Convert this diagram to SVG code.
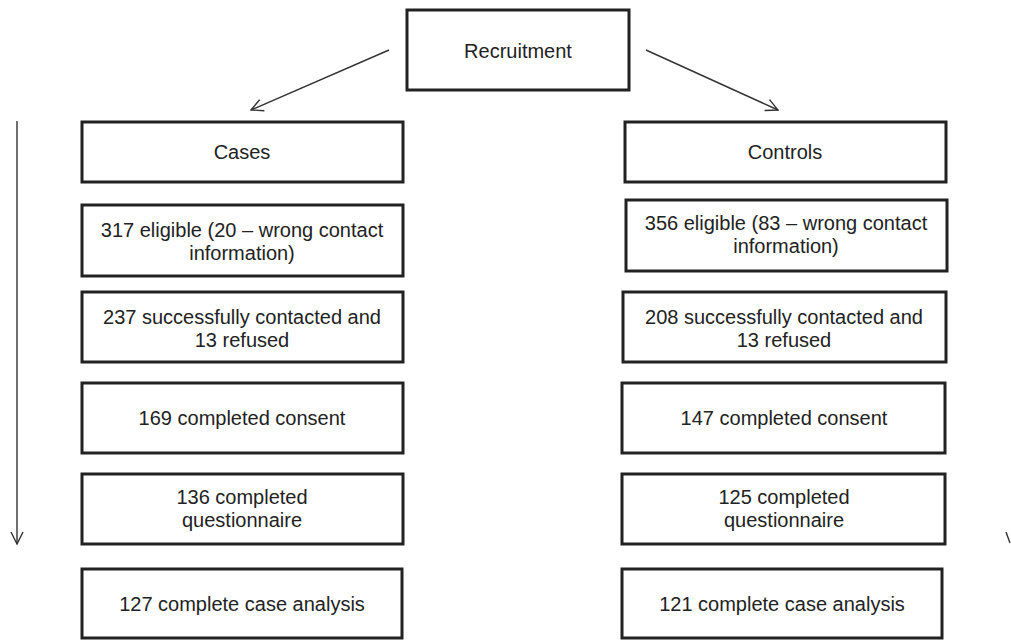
<svg xmlns="http://www.w3.org/2000/svg" width="1011" height="641" viewBox="0 0 1011 641">
<style>
.box{fill:#fff;stroke:#222;stroke-width:3}
.t{font-family:"Liberation Sans",Arial,sans-serif;font-size:20px;fill:#222;text-anchor:middle}
.ln{stroke:#333;stroke-width:1.4;fill:none}
</style>
<defs>
<marker id="arr" viewBox="0 0 14 14" refX="13" refY="7" markerWidth="14" markerHeight="14" markerUnits="userSpaceOnUse" orient="auto">
<path d="M1,1 L13,7 L1,13" fill="none" stroke="#333" stroke-width="1.4"/>
</marker>
</defs>
<rect width="1011" height="641" fill="#fff"/>
<g id="connectors">
<line class="ln" x1="389" y1="50" x2="251" y2="110" marker-end="url(#arr)"/>
<line class="ln" x1="646" y1="50" x2="778" y2="110" marker-end="url(#arr)"/>
<line class="ln" x1="17" y1="121" x2="17" y2="544" marker-end="url(#arr)"/>
<line class="ln" x1="1006" y1="532" x2="1010" y2="543"/>
</g>
<g id="recruitment"><rect class="box" x="407" y="10" width="222" height="80"/><text class="t" x="518" y="58">Recruitment</text></g>
<g id="cases"><rect class="box" x="82" y="122" width="321" height="60"/><text class="t" x="242" y="159">Cases</text></g>
<g id="controls"><rect class="box" x="625" y="122" width="321" height="60"/><text class="t" x="785" y="159">Controls</text></g>
<g id="cases-eligible"><rect class="box" x="82" y="205" width="321" height="71"/><text class="t" x="242" y="237">317 eligible (20 – wrong contact</text><text class="t" x="242" y="260">information)</text></g>
<g id="controls-eligible"><rect class="box" x="626" y="200" width="321" height="71"/><text class="t" x="786" y="230">356 eligible (83 – wrong contact</text><text class="t" x="786" y="253">information)</text></g>
<g id="cases-contacted"><rect class="box" x="82" y="292" width="321" height="70"/><text class="t" x="242" y="324">237 successfully contacted and</text><text class="t" x="242" y="347">13 refused</text></g>
<g id="controls-contacted"><rect class="box" x="623" y="292" width="323" height="70"/><text class="t" x="784" y="324">208 successfully contacted and</text><text class="t" x="784" y="347">13 refused</text></g>
<g id="cases-consent"><rect class="box" x="82" y="383" width="321" height="70"/><text class="t" x="242" y="425">169 completed consent</text></g>
<g id="controls-consent"><rect class="box" x="622" y="383" width="323" height="70"/><text class="t" x="784" y="425">147 completed consent</text></g>
<g id="cases-questionnaire"><rect class="box" x="82" y="474" width="321" height="70"/><text class="t" x="242" y="504">136 completed</text><text class="t" x="242" y="527">questionnaire</text></g>
<g id="controls-questionnaire"><rect class="box" x="622" y="474" width="323" height="70"/><text class="t" x="784" y="504">125 completed</text><text class="t" x="784" y="527">questionnaire</text></g>
<g id="cases-analysis"><rect class="box" x="82" y="569" width="320" height="69"/><text class="t" x="242" y="611">127 complete case analysis</text></g>
<g id="controls-analysis"><rect class="box" x="622" y="569" width="320" height="69"/><text class="t" x="782" y="611">121 complete case analysis</text></g>
</svg>
